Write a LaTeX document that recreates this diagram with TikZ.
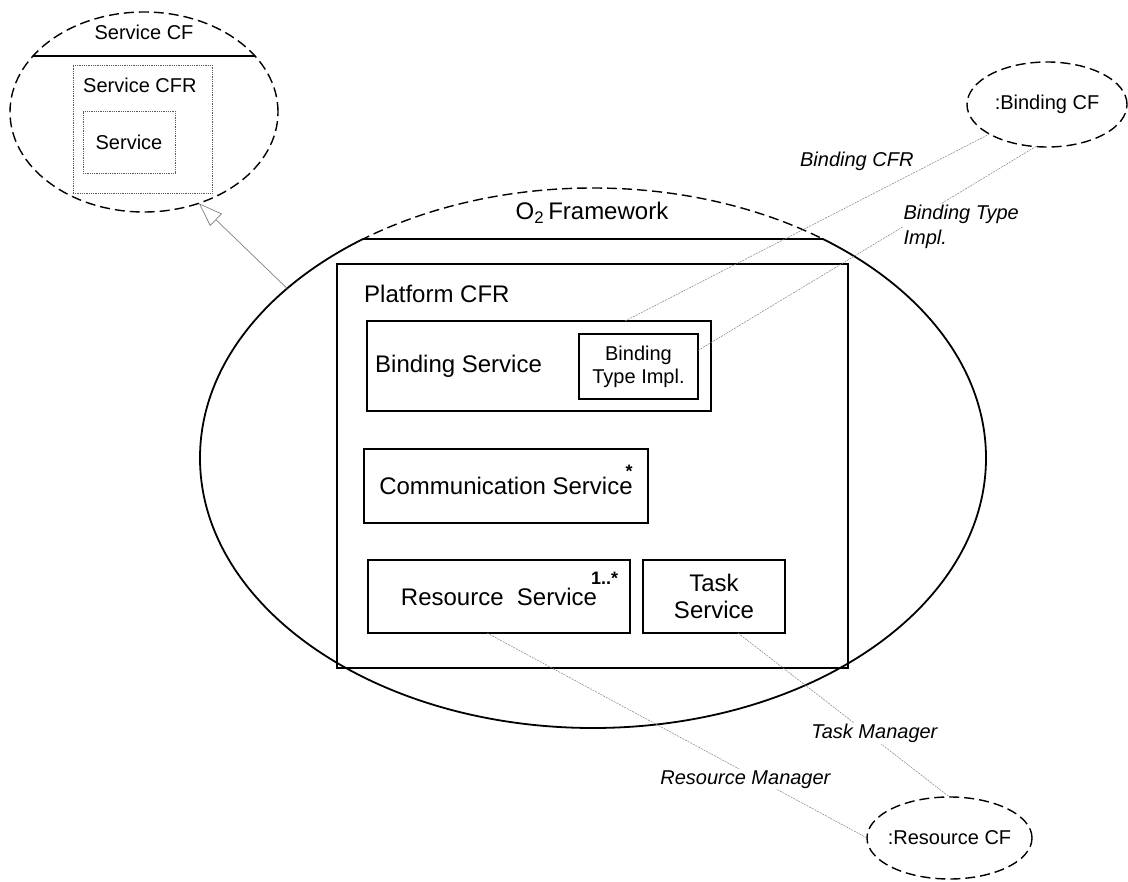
\documentclass[tikz,border=0pt]{standalone}
\usepackage{fontspec}
\setmainfont{Liberation Sans}
\usetikzlibrary{shapes.geometric,arrows.meta,calc}

\begin{document}
\begin{tikzpicture}[x=1pt,y=-1pt,
    box/.style={draw,line width=1.5pt,rectangle,inner sep=0pt,outer sep=0pt},
    thinbox/.style={draw=black!65,densely dotted,line width=0.8pt,rectangle,inner sep=0pt,outer sep=0pt},
    cf/.style={draw,ellipse,dash pattern=on 10pt off 5pt,line width=1.4pt,inner sep=0pt,outer sep=0pt},
    link/.style={draw=black!50,line width=0.5pt,dash pattern=on 2pt off 1pt},
    big/.style={font=\fontsize{24}{27}\selectfont,inner sep=0pt},
    small/.style={font=\fontsize{20}{23}\selectfont,inner sep=0pt},
    role/.style={font=\fontsize{20}{25}\selectfont\itshape,fill=white,inner sep=1pt,align=left}]
    \useasboundingbox (0,0) rectangle (1128,882);

    % Service CF
    \node[cf,minimum width=268pt,minimum height=200pt] (scf) at (144,112) {};
    \node[small] (scftitle) at (144,32) {Service CF};
    \draw[line width=1.5pt] ($(scf.center)+(-111,-56)$) -- ($(scf.center)+(111,-56)$);
    \node[thinbox,minimum width=139pt,minimum height=128pt] (scfr) at (142.5,129) {};
    \node[small,anchor=west] (scfrname) at (83,85) {Service CFR};
    \node[thinbox,small,minimum width=92pt,minimum height=62pt] (svc) at (129,142) {Service};

    % O2 Framework
    \node[ellipse,minimum width=786pt,minimum height=540pt,inner sep=0pt,outer sep=0pt] (fw) at (593,458) {};
    \begin{scope}
        \clip (0,0) rectangle (1128,239);
        \draw[dash pattern=on 10pt off 5pt,line width=1.4pt] (fw.center) ellipse [x radius=393, y radius=270];
    \end{scope}
    \begin{scope}
        \clip (0,239) rectangle (1128,882);
        \draw[line width=1.8pt] (fw.center) ellipse [x radius=393, y radius=270];
    \end{scope}
    \draw[line width=1.5pt] ($(fw.center)+(-230,-219)$) -- ($(fw.center)+(230,-219)$);
    \node[big] (fwname) at (592,213) {O\textsubscript{2}\,Framework};

    \node[box,minimum width=511pt,minimum height=404pt] (pcfr) at (592.5,466) {};
    \node[big,anchor=west] (pcfrname) at (364,294) {Platform CFR};
    \node[box,minimum width=344pt,minimum height=90pt] (bs) at (539,366) {};
    \node[big,anchor=west] (bsname) at (375,366) {Binding Service};
    \node[box,align=center,font=\fontsize{20}{23}\selectfont,minimum width=119pt,minimum height=65pt] (bti) at (638.5,366.5) {Binding\\Type Impl.};
    \node[box,big,minimum width=284pt,minimum height=74pt] (cs) at (506,486)
        {Communication Service\llap{\smash{\raisebox{17pt}{\fontsize{18}{18}\selectfont\bfseries *}}}};
    \node[box,big,minimum width=262pt,minimum height=73pt] (rs) at (499,596.5)
        {Resource\ \ Service\rlap{\kern-6pt\smash{\raisebox{21pt}{\fontsize{18}{18}\selectfont\bfseries 1..*}}}};
    \node[box,big,align=center,minimum width=142pt,minimum height=73pt] (ts) at (714,596.5) {Task\\Service};

    % component frameworks
    \node[cf,minimum width=160pt,minimum height=85pt] (bcf) at (1047,104.5) {};
    \node[small] (bcftext) at (bcf.center) {:Binding CF};
    \node[cf,minimum width=165pt,minimum height=82pt] (rcf) at (949.5,838) {};
    \node[small] (rcftext) at (rcf.center) {:Resource CF};

    % links
    \draw[link] ([xshift=86pt]bs.north) -- (bcf) node[role,pos=0.795,anchor=south east] (bcfrlabel) {Binding CFR};
    \draw[link] ([yshift=16pt]bti.east) -- (bcf.255) node[role,pos=0.605,anchor=west] (btilabel) {Binding Type\\Impl.};
    \draw[link] ([xshift=24pt]ts.south) -- (rcf.north) node[role,pos=0.645,yshift=5pt] (tmlabel) {Task Manager};
    \draw[link] ([xshift=-12pt]rs.south) -- (rcf.west) node[role,pos=0.68,yshift=-7pt] (rmlabel) {Resource Manager};
    \draw[-{Triangle[open,length=24pt,width=17pt]},draw=black!50,line width=0.7pt] (fw.151.4) -- (scf.301.6);
\end{tikzpicture}
\end{document}
